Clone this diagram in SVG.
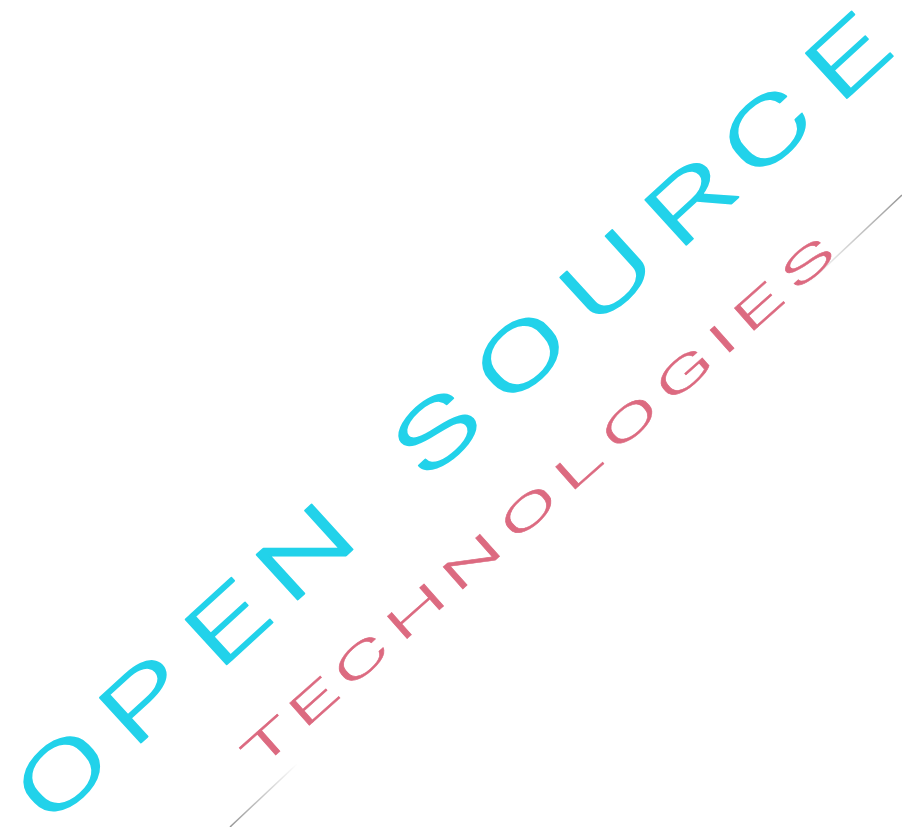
<svg xmlns="http://www.w3.org/2000/svg" width="902" height="827" viewBox="0 0 902 827">
  <defs>
    <linearGradient id="lineFade" gradientUnits="userSpaceOnUse" x1="230" y1="827" x2="902" y2="195">
      <stop offset="0" stop-color="#8a8a8a" stop-opacity="0.9"/>
      <stop offset="0.1" stop-color="#8a8a8a" stop-opacity="0"/>
      <stop offset="0.86" stop-color="#8a8a8a" stop-opacity="0"/>
      <stop offset="1" stop-color="#8a8a8a" stop-opacity="0.9"/>
    </linearGradient>
    <style>
      .open { font-family: Roboto, "DejaVu Sans", sans-serif; font-weight: 300; font-size: 86px; fill: #22d2ea; stroke: #22d2ea; stroke-width: 1.5px; stroke-linejoin: round; text-anchor: middle; }
      .tech { font-family: Roboto, "DejaVu Sans", sans-serif; font-weight: 300; font-size: 42px; fill: #dc6a80; stroke: #dc6a80; stroke-width: 0.4px; text-anchor: middle; }
    </style>
  </defs>
  <rect width="902" height="827" fill="#ffffff"/>
  <line id="horizon" x1="230" y1="827" x2="902" y2="195" stroke="url(#lineFade)" stroke-width="1.5"/>
  <g id="open-source" transform="translate(58,820) rotate(-42.4) scale(1.62,1)">
    <text class="open" x="21 89 158.5 224 278.4 333.9 404.3 476.5 545.7 609.9 677" y="-1">OPEN SOURCE</text>
  </g>
  <g id="technologies" transform="translate(268,742) rotate(-41.6) scale(2.2,1)">
    <text class="tech" x="0 27.3 56.4 89.7 123.6 158.2 188.2 219.5 252.5 275.9 297.7 327.8" y="15">TECHNOLOGIES</text>
  </g>
</svg>
